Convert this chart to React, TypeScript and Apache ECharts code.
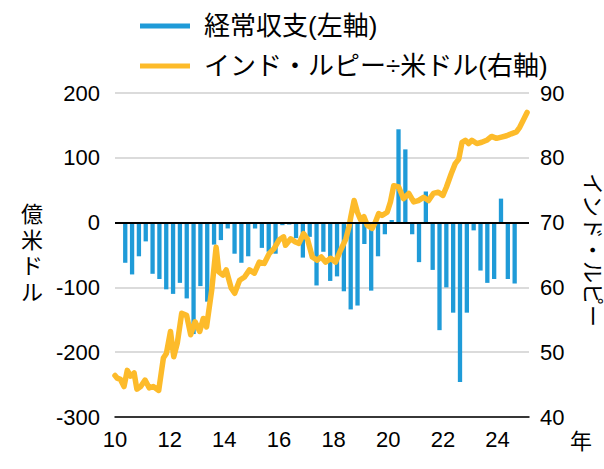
import React, { useEffect, useRef } from "react";
import * as echarts from "echarts";

// Current account balance (quarterly, 100 million USD), 2010 Q2 .. 2024 Q3
const barStartYear = 2010.375;
const currentAccount = [
  -62, -80, -52, -29, -79, -87, -103, -110, -93, -117,
  -172, -98, -122, -34, -27, -9, -48, -62, -52, -9,
  -39, -45, -48, -4, -3, -24, -54, -22, -97, -45,
  -90, -83, -106, -134, -128, -33, -105, -52, -18, 4,
  144, 113, -18, -61, 48, -73, -166, -100, -139, -246,
  -139, -12, -74, -93, -87, 37, -87, -94,
];

// Rupee per USD (right axis), traced points: time (decimal year) and rate
const rupeeTime = [
  2010.0, 2010.08, 2010.2, 2010.33, 2010.45, 2010.57, 2010.7, 2010.8, 2010.94,
  2011.1, 2011.25, 2011.4, 2011.6, 2011.77, 2011.88, 2012.03, 2012.15, 2012.28,
  2012.44, 2012.62, 2012.77, 2012.93, 2013.1, 2013.23, 2013.35, 2013.54, 2013.7,
  2013.8, 2013.95, 2014.07, 2014.25, 2014.38, 2014.56, 2014.74, 2014.92, 2015.1,
  2015.28, 2015.46, 2015.64, 2015.82, 2016.0, 2016.17, 2016.24, 2016.43, 2016.6,
  2016.73, 2016.9, 2017.04, 2017.22, 2017.4, 2017.55, 2017.71, 2017.89, 2018.07,
  2018.25, 2018.45, 2018.56, 2018.63, 2018.75, 2018.87, 2018.99, 2019.11, 2019.23,
  2019.41, 2019.53, 2019.65, 2019.77, 2019.96, 2020.08, 2020.2, 2020.38, 2020.56,
  2020.75, 2020.93, 2021.1, 2021.29, 2021.47, 2021.65, 2021.83, 2022.0, 2022.13,
  2022.3, 2022.45, 2022.58, 2022.7, 2022.82, 2022.94, 2023.06, 2023.24, 2023.42,
  2023.6, 2023.78, 2023.96, 2024.14, 2024.33, 2024.5, 2024.69, 2024.81, 2024.93,
  2025.08,
];
const rupeeRate = [
  46.4, 46.0, 45.8, 44.7, 47.2, 46.3, 46.8, 44.3, 44.7,
  45.7, 44.5, 44.7, 44.1, 49.1, 49.8, 53.2, 49.3, 51.4,
  56.0, 55.7, 52.7, 54.7, 53.2, 55.2, 53.9, 59.6, 66.2,
  62.4, 61.9, 62.7, 59.9, 59.1, 61.1, 61.6, 62.7, 62.2,
  63.9, 63.7, 65.2, 66.0, 67.3, 67.8, 66.5, 67.5, 67.0,
  66.8, 68.3, 67.5, 64.7, 64.2, 64.7, 63.9, 64.5, 63.9,
  65.7, 67.5, 69.3, 70.9, 73.4, 71.6, 70.4, 70.9, 69.6,
  69.1, 70.1, 71.4, 71.1, 71.6, 73.2, 75.7, 75.5, 73.7,
  74.5, 73.2, 73.4, 73.9, 73.4, 74.5, 74.7, 74.2, 75.5,
  77.5, 79.1, 79.8, 82.4, 82.7, 82.2, 82.7, 82.2, 82.4,
  82.7, 83.3, 83.0, 83.2, 83.4, 83.7, 84.0, 84.7, 85.7,
  87.0,
];

const xTickYears = [2010, 2012, 2014, 2016, 2018, 2020, 2022, 2024];
const xTickLabels = ["10", "12", "14", "16", "18", "20", "22", "24"];

const seriesNames = ["経常収支(左軸)", "インド・ルピー÷米ドル(右軸)"];
const leftAxisName = "億米ドル";
const rightAxisName = "インド・ルピー";
const xUnit = "年";

const FONT = "'Liberation Sans', Arial, 'Noto Sans CJK JP', sans-serif";
const BLUE = "#1f9bd8";
const ORANGE = "#fdbb2a";

export default function App() {
  const ref = useRef<HTMLDivElement>(null);

  useEffect(() => {
    document.body.style.margin = "0";
    if (!ref.current) return;
    const chart = echarts.init(ref.current, undefined, { renderer: "svg" });

    const barData = currentAccount.map((v, i) => [barStartYear + i * 0.25, v]);
    const lineData = rupeeTime.map((t, i) => [t, rupeeRate[i]]);

    chart.setOption({
      animation: false,
      backgroundColor: "#fff",
      textStyle: { fontFamily: FONT },
      legend: {
        orient: "vertical",
        left: 135,
        top: 7,
        itemWidth: 50,
        itemHeight: 5,
        itemGap: 12,
        icon: "rect",
        textStyle: {
          fontSize: 26,
          color: "#000",
          fontFamily: FONT,
          lineHeight: 28,
          padding: [0, 0, 0, 9],
        },
        data: seriesNames,
      },
      grid: { left: 115, right: 75, top: 93, bottom: 52, containLabel: false },
      xAxis: {
        type: "value",
        min: 2010,
        max: 2025.15,
        interval: 2,
        axisLine: { onZero: false, lineStyle: { color: "#000", width: 1.5 } },
        axisTick: { show: false },
        splitLine: { show: false },
        axisLabel: {
          fontSize: 22,
          color: "#000",
          margin: 11,
          showMaxLabel: false,
          formatter: (v: number) => {
            const idx = xTickYears.indexOf(Math.round(v));
            return idx >= 0 ? xTickLabels[idx] : "";
          },
        },
      },
      yAxis: [
        {
          type: "value",
          min: -300,
          max: 200,
          interval: 100,
          axisLine: { show: false },
          axisTick: { show: false },
          axisLabel: { fontSize: 22, color: "#000", margin: 15 },
          splitLine: { lineStyle: { color: "#cfcfcf", width: 1.5 } },
        },
        {
          type: "value",
          min: 40,
          max: 90,
          interval: 10,
          position: "right",
          axisLine: { show: false },
          axisTick: { show: false },
          axisLabel: { fontSize: 22, color: "#000", margin: 11 },
          splitLine: { show: false },
        },
      ],
      series: [
        {
          name: seriesNames[0],
          type: "bar",
          yAxisIndex: 0,
          data: barData,
          barWidth: 4.3,
          itemStyle: { color: BLUE },
          z: 2,
          markLine: {
            silent: true,
            symbol: "none",
            label: { show: false },
            lineStyle: { color: "#000", width: 2, type: "solid" },
            data: [{ yAxis: 0 }],
          },
        },
        {
          name: seriesNames[1],
          type: "line",
          yAxisIndex: 1,
          data: lineData,
          showSymbol: false,
          symbol: "none",
          lineStyle: { color: ORANGE, width: 5.5, cap: "round", join: "round" },
          itemStyle: { color: ORANGE },
          z: 3,
        },
      ],
      graphic: [
        {
          type: "text",
          left: 21,
          top: 201,
          style: {
            text: leftAxisName.split("").join("\n"),
            fontSize: 22,
            lineHeight: 26,
            fill: "#000",
            fontFamily: FONT,
            align: "left",
          },
        },
        {
          type: "text",
          x: 581,
          y: 250,
          rotation: -Math.PI / 2,
          style: {
            text: rightAxisName,
            fontSize: 22,
            fill: "#000",
            fontFamily: FONT,
            align: "center",
            verticalAlign: "bottom",
          },
        },
        {
          type: "text",
          left: 570,
          top: 430,
          style: {
            text: xUnit,
            fontSize: 22,
            fill: "#000",
            fontFamily: FONT,
          },
        },
      ],
    });

    return () => chart.dispose();
  }, []);

  return <div ref={ref} style={{ width: 604, height: 469 }} />;
}
